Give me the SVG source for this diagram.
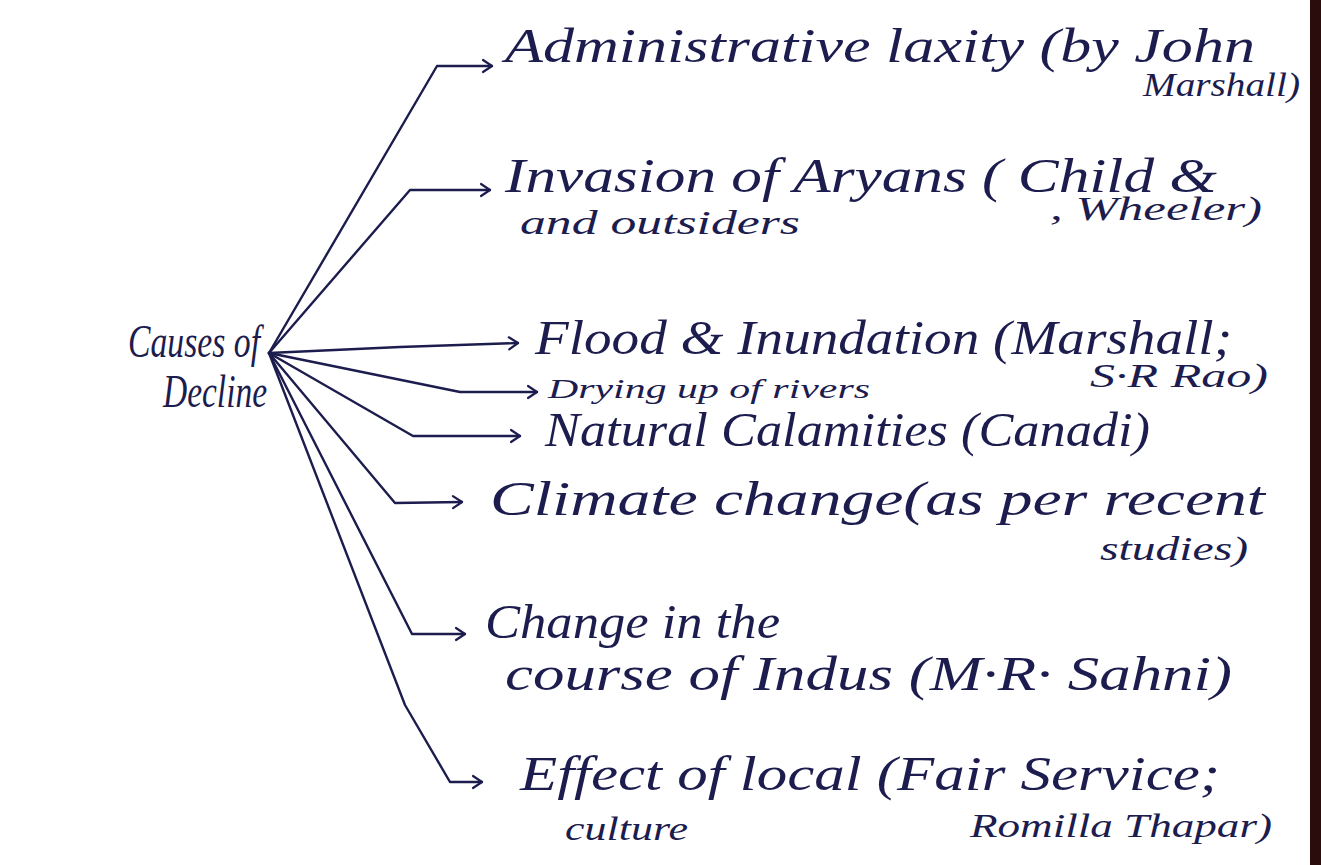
<svg xmlns="http://www.w3.org/2000/svg" width="1321" height="865" viewBox="0 0 1321 865">
<style>
.ink{fill:#1c1c4e;font-family:"Liberation Serif","DejaVu Serif",serif;font-style:italic}
.m{font-size:48px}
.s{font-size:34px}
.xs{font-size:27px}
.c{font-size:46px}
.ln{fill:none;stroke:#1c1c4e;stroke-width:2.4;stroke-linecap:round;stroke-linejoin:round}
</style>
<defs>
<marker id="ah" markerUnits="userSpaceOnUse" markerWidth="16" markerHeight="16" refX="12" refY="8" orient="auto">
<path d="M3,2 L12,8 L3,14" fill="none" stroke="#1c1c4e" stroke-width="2.2" stroke-linecap="round" stroke-linejoin="round"/>
</marker>
</defs>
<rect width="1321" height="865" fill="#ffffff"/>
<rect x="1310" y="0" width="11" height="865" fill="#2a0c0c"/>

<g id="connectors">
<path class="ln" marker-end="url(#ah)" d="M269,353 L437,66 L492,66"/>
<path class="ln" marker-end="url(#ah)" d="M269,353 L410,190 L490,190"/>
<path class="ln" marker-end="url(#ah)" d="M269,353 L400,347 L518,343"/>
<path class="ln" marker-end="url(#ah)" d="M269,353 L460,392 L537,392"/>
<path class="ln" marker-end="url(#ah)" d="M269,353 L413,436 L520,436"/>
<path class="ln" marker-end="url(#ah)" d="M269,353 L395,503 L462,502"/>
<path class="ln" marker-end="url(#ah)" d="M269,353 L412,634 L465,634"/>
<path class="ln" marker-end="url(#ah)" d="M269,353 L405,705 L450,782 L482,782"/>
</g>

<g id="root">
<text class="ink c" x="128" y="357" textLength="132" lengthAdjust="spacingAndGlyphs">Causes of</text>
<text class="ink c" x="163" y="407" textLength="104" lengthAdjust="spacingAndGlyphs">Decline</text>
</g>

<g id="n1">
<text class="ink m" x="505" y="62" textLength="750" lengthAdjust="spacingAndGlyphs">Administrative laxity (by John</text>
<text class="ink s" x="1143" y="96" textLength="157" lengthAdjust="spacingAndGlyphs">Marshall)</text>
</g>

<g id="n2">
<text class="ink m" x="505" y="192" textLength="712" lengthAdjust="spacingAndGlyphs">Invasion of Aryans ( Child &amp;</text>
<text class="ink s" x="520" y="234" textLength="280" lengthAdjust="spacingAndGlyphs">and outsiders</text>
<text class="ink s" x="1050" y="220" textLength="212" lengthAdjust="spacingAndGlyphs">, Wheeler)</text>
</g>

<g id="n3">
<text class="ink m" x="535" y="354" textLength="697" lengthAdjust="spacingAndGlyphs">Flood &amp; Inundation (Marshall;</text>
<text class="ink s" x="1090" y="387" textLength="178" lengthAdjust="spacingAndGlyphs">S·R Rao)</text>
</g>

<g id="n4">
<text class="ink xs" x="548" y="398" textLength="322" lengthAdjust="spacingAndGlyphs">Drying up of rivers</text>
</g>

<g id="n5">
<text class="ink m" x="545" y="446" textLength="605" lengthAdjust="spacingAndGlyphs">Natural Calamities (Canadi)</text>
</g>

<g id="n6">
<text class="ink m" x="490" y="515" textLength="775" lengthAdjust="spacingAndGlyphs">Climate change(as per recent</text>
<text class="ink s" x="1100" y="560" textLength="148" lengthAdjust="spacingAndGlyphs">studies)</text>
</g>

<g id="n7">
<text class="ink m" x="485" y="638" textLength="295" lengthAdjust="spacingAndGlyphs">Change in the</text>
<text class="ink m" x="505" y="690" textLength="727" lengthAdjust="spacingAndGlyphs">course of Indus (M·R· Sahni)</text>
</g>

<g id="n8">
<text class="ink m" x="520" y="790" textLength="700" lengthAdjust="spacingAndGlyphs">Effect of local (Fair Service;</text>
<text class="ink s" x="565" y="840" textLength="123" lengthAdjust="spacingAndGlyphs">culture</text>
<text class="ink s" x="970" y="837" textLength="302" lengthAdjust="spacingAndGlyphs">Romilla Thapar)</text>
</g>
</svg>
